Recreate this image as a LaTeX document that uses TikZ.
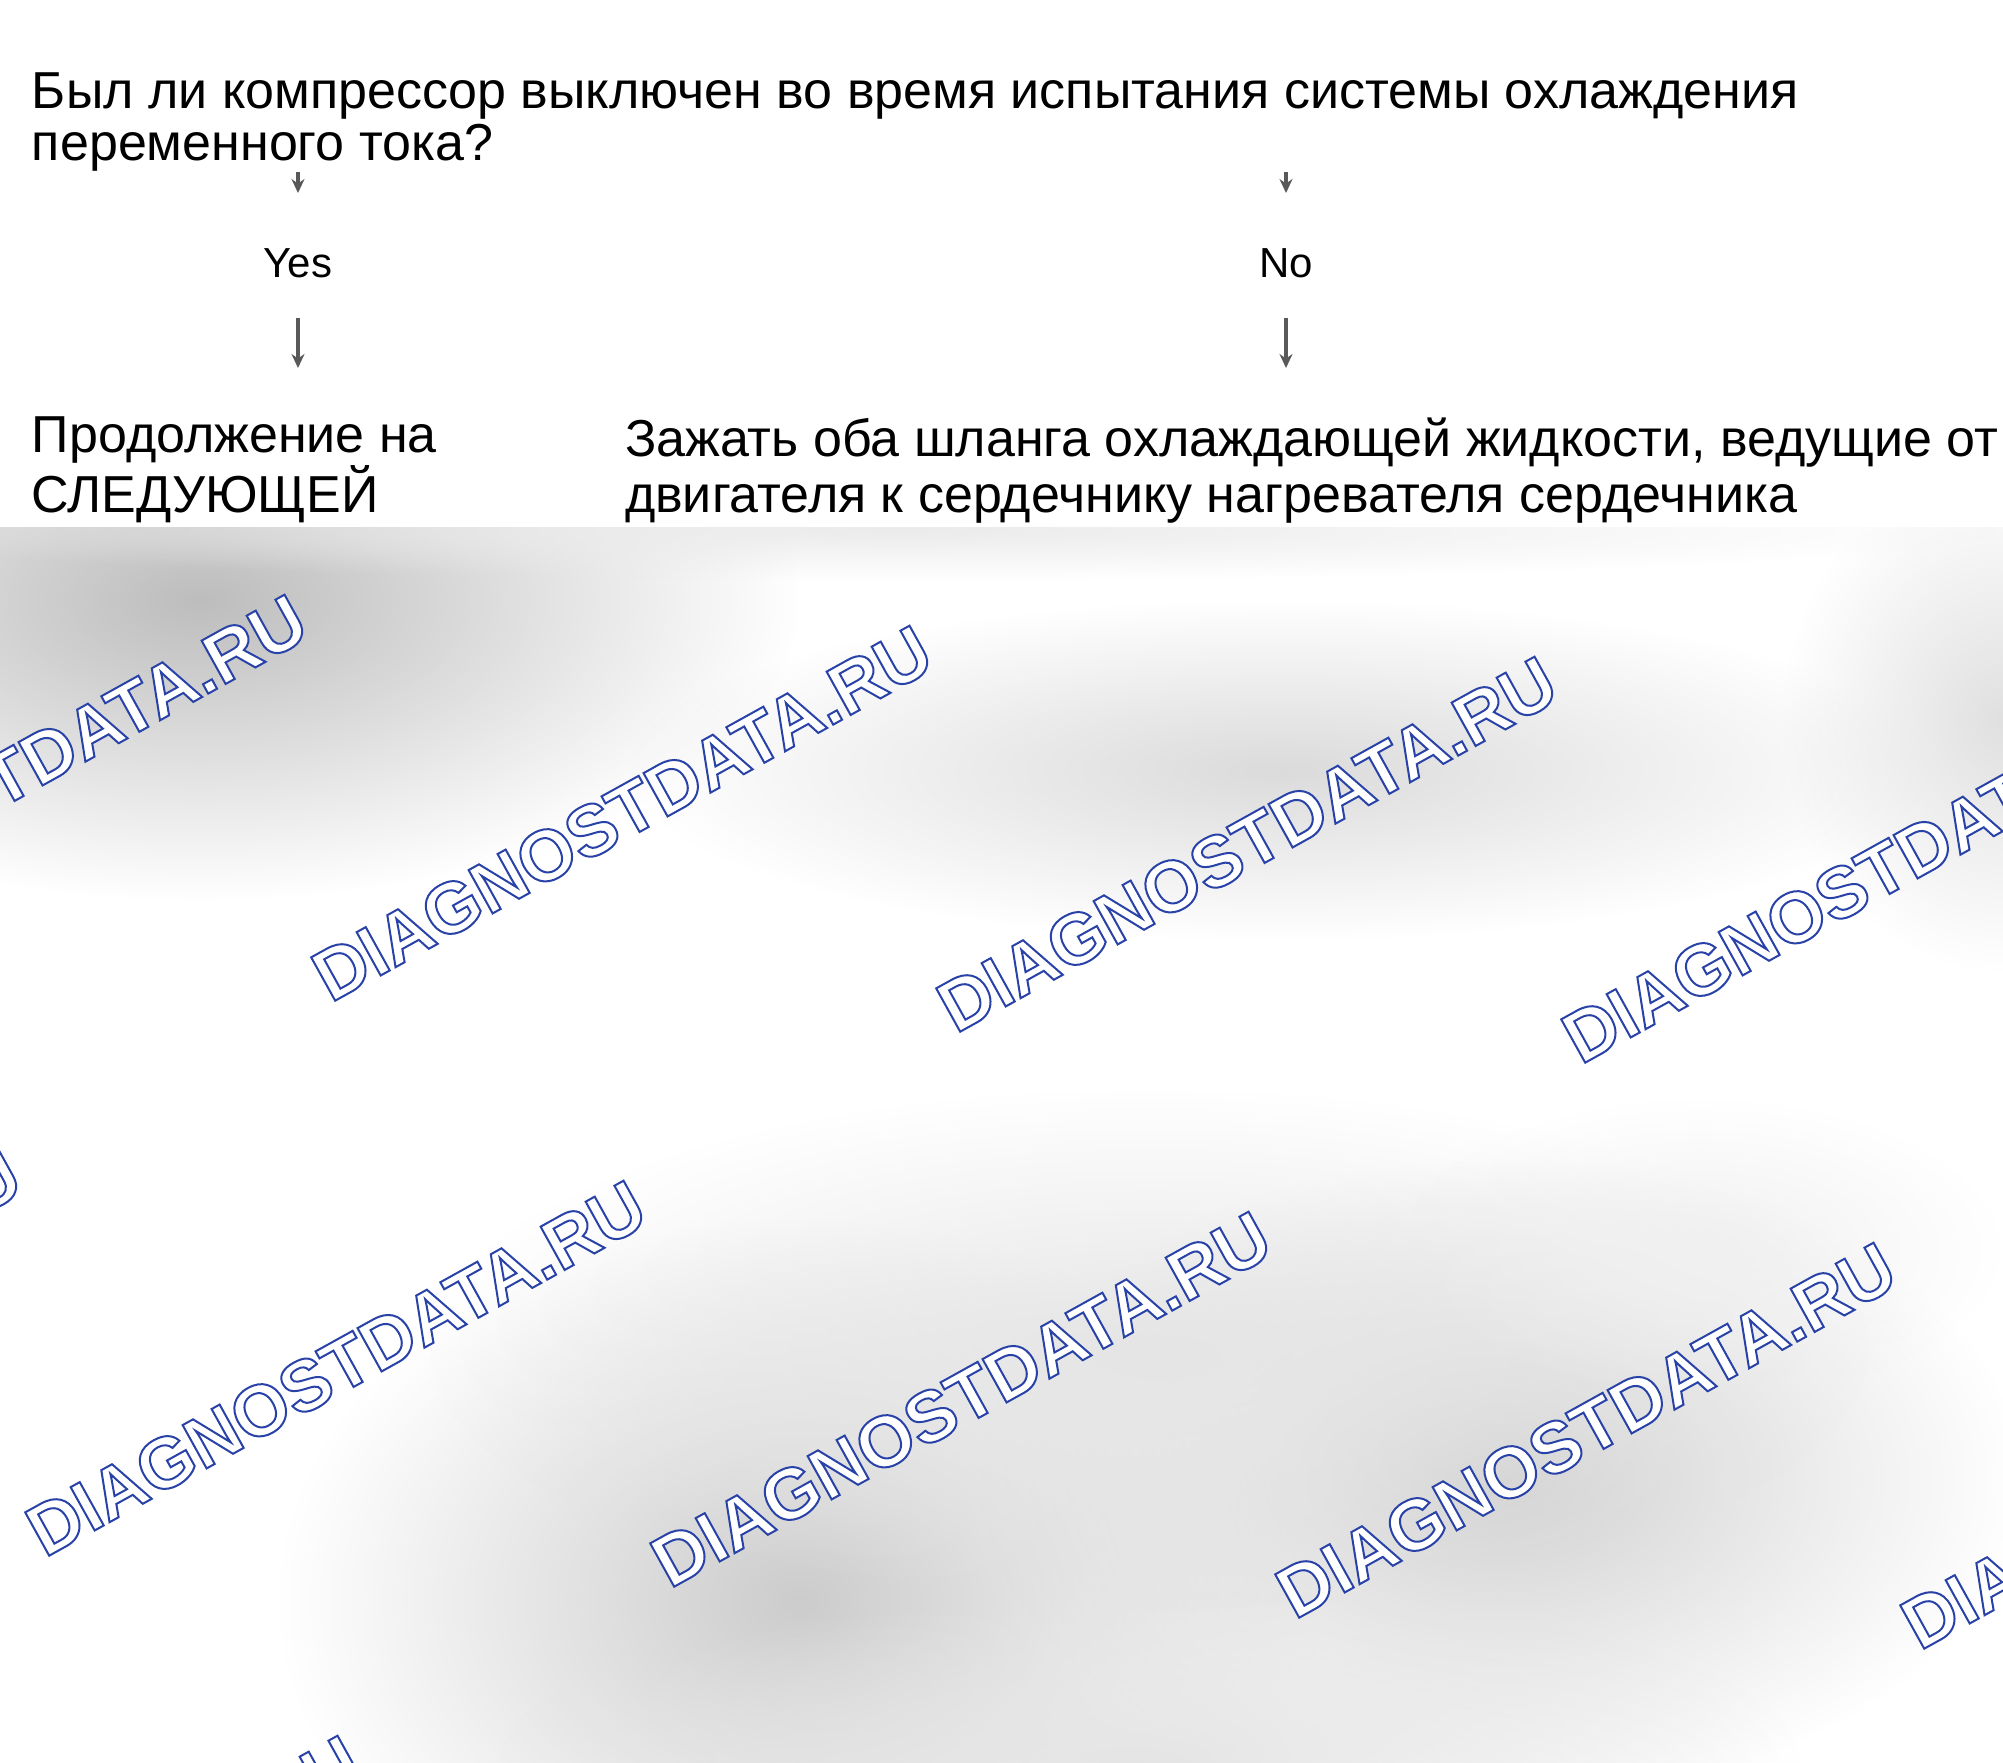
\documentclass[tikz,border=0pt]{standalone}
\usepackage{fontspec}
\setmainfont{Liberation Sans}
\usetikzlibrary{arrows.meta,fadings}

\tikzfading[name=blob fade, inner color=transparent!0, outer color=transparent!100]

% white letters with a blue outline
\newcommand\outlined[1]{\special{pdf:literal direct 0.16 0.26 0.66 RG 1 w 2 Tr}#1\special{pdf:literal direct 0 Tr}}

\begin{document}
\begin{tikzpicture}[x=0.5pt, y=-0.5pt,
  every node/.style={inner sep=0pt, outer sep=0pt},
  bigtext/.style={anchor=base west, align=left, font=\fontsize{26pt}{26pt}\selectfont},
  answer/.style={anchor=base, font=\fontsize{21pt}{21pt}\selectfont},
  arr/.style={-{Stealth[length=7pt,width=6.5pt]}, line width=1.6pt, black!65},
  blob/.style={path fading=blob fade},
  watermark/.style={anchor=base west, rotate=29, text=white,
    font=\fontsize{36pt}{36pt}\selectfont\bfseries}]

   % page
   \useasboundingbox (0,0) rectangle (2003,1762);
   \fill[white] (0,0) rectangle (2003,1762);

   % grey band with the watermark
   \begin{scope}
     \clip (0,527) rectangle (2003,1762);
     \foreach \cx/\cy/\rx/\ry/\s in {200/600/600/300/26, 1280/770/650/170/14,
         2003/720/220/250/12, 900/530/1100/50/8, 800/1600/520/380/20,
         1500/1480/520/320/18, 1150/1350/720/260/10, 1150/1760/650/170/10,
         1700/1250/300/150/6}
       \fill[black!\s, blob] (\cx,\cy) ellipse [x radius=\rx, y radius=\ry];
     \foreach \i in {-1,...,3}
       \foreach \j in {-1,...,2}
         \node[watermark] (wm\i\j) at ({331+625*\i-286*\j},{1003+31*\i+555*\j}) {\outlined{DIAGNOSTDATA.RU}};
   \end{scope}

   % question and answers (base = last line)
   \node[bigtext] (question) at (32,160) {Был ли компрессор выключен во время испытания системы охлаждения\\переменного тока?};
   \node[answer] (yes) at (298,277) {Yes};
   \node[answer] (no) at (1286,277) {No};
   \node[bigtext, font=\fontsize{26pt}{28pt}\selectfont] (cont) at (32,512) {Продолжение на\\СЛЕДУЮЩЕЙ};
   \node[bigtext, font=\fontsize{26pt}{28pt}\selectfont] (clamp) at (625,512) {Зажать оба шланга охлаждающей жидкости, ведущие от\\двигателя к сердечнику нагревателя сердечника};

   % arrows
   \coordinate (yes top) at (298,172);
   \coordinate (yes in) at (298,193);
   \coordinate (yes out) at (298,318);
   \coordinate (cont in) at (298,368);
   \coordinate (no top) at (1286,172);
   \coordinate (no in) at (1286,193);
   \coordinate (no out) at (1286,318);
   \coordinate (clamp in) at (1286,368);
   \draw[arr] (yes top) -- (yes in);
   \draw[arr] (yes out) -- (cont in);
   \draw[arr] (no top) -- (no in);
   \draw[arr] (no out) -- (clamp in);
\end{tikzpicture}
\end{document}
